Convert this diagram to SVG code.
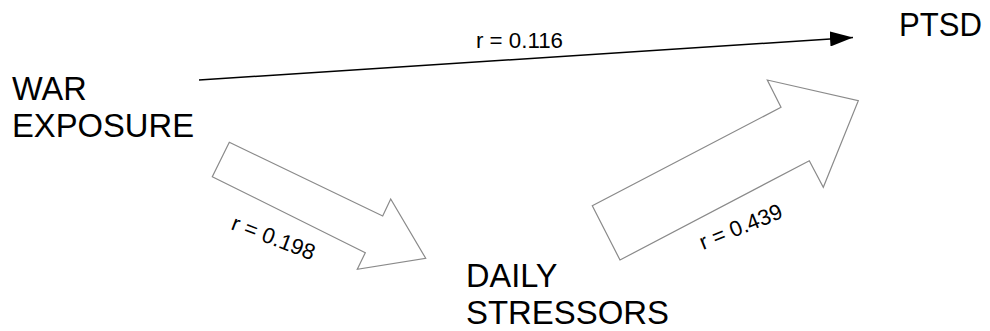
<svg xmlns="http://www.w3.org/2000/svg" width="990" height="331" viewBox="0 0 990 331">
<defs>
<style>
.lbl{font-family:"Liberation Sans",Arial,sans-serif;font-size:32.5px;fill:#000}
.r{font-family:"Liberation Sans",Arial,sans-serif;font-size:22px;fill:#000}
.blk{fill:#fff;stroke:#8a8a8a;stroke-width:1.2;stroke-linejoin:miter}
</style>
<marker id="ah" markerWidth="23" markerHeight="15" refX="23" refY="7.5" orient="auto" markerUnits="userSpaceOnUse">
<path d="M0,0 L23,7.5 L0,15 Z" fill="#000"/>
</marker>
</defs>
<rect width="990" height="331" fill="#fff"/>
<g id="war">
<text class="lbl" x="12" y="100">WAR</text>
<text class="lbl" x="12" y="137" textLength="182" lengthAdjust="spacingAndGlyphs">EXPOSURE</text>
</g>
<g id="ptsd">
<text class="lbl" x="899" y="36" textLength="83" lengthAdjust="spacingAndGlyphs">PTSD</text>
</g>
<g id="daily">
<text class="lbl" x="466" y="287">DAILY</text>
<text class="lbl" x="466" y="324" textLength="203" lengthAdjust="spacingAndGlyphs">STRESSORS</text>
</g>
<g id="connectors">
<line x1="199" y1="80" x2="853" y2="37.5" stroke="#000" stroke-width="1.5" marker-end="url(#ah)"/>
<text class="r" x="476" y="48" textLength="87" lengthAdjust="spacingAndGlyphs">r = 0.116</text>
<polygon class="blk" points="229.3,142.3 382.7,216 390.7,199 425.7,258.3 357.3,269.3 365.3,252.7 212.3,176.7"/>
<text class="r" transform="translate(230,229) rotate(21)">r = 0.198</text>
<polygon class="blk" points="620,260 592.3,205.7 781,107.3 767.3,80 858.3,100.7 823.3,187.3 809.3,160.7"/>
<text class="r" transform="translate(703,250) rotate(-22)">r = 0.439</text>
</g>
</svg>
